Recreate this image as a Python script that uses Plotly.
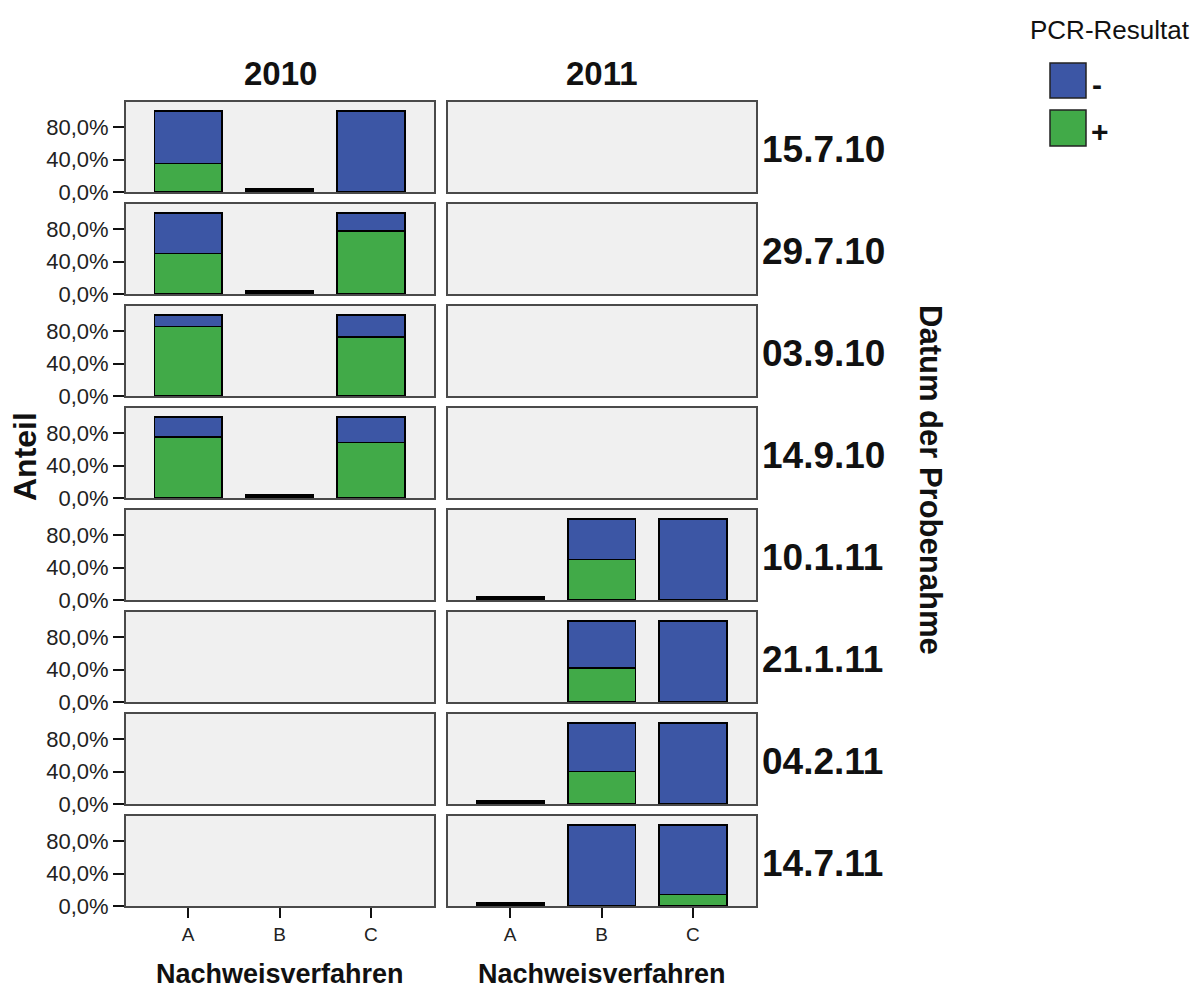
import plotly.graph_objects as go

# ---- data -------------------------------------------------------------
dates = ["15.7.10", "29.7.10", "03.9.10", "14.9.10",
         "10.1.11", "21.1.11", "04.2.11", "14.7.11"]
years = ["2010", "2011"]
date_year = ["2010", "2010", "2010", "2010", "2011", "2011", "2011", "2011"]
methods = ["A", "B", "C"]

# share of positive PCR results in % per sampling date and method (None = no bar)
pos_share = [
    [35.0, None, 0.0],
    [50.0, None, 77.8],
    [85.7, None, 72.7],
    [75.0, None, 68.4],
    [None, 50.0, 0.0],
    [None, 41.7, 0.0],
    [None, 40.0, 0.0],
    [None, 0.0, 14.3],
]
# methods listed for a date but without any sample (n = 0)
empty_groups = [
    [False, True, False],
    [False, True, False],
    [False, False, False],
    [False, True, False],
    [True, False, False],
    [False, False, False],
    [True, False, False],
    [True, False, False],
]

y_ticks = [0, 40, 80]
y_ticktext = ["0,0%", "40,0%", "80,0%"]

# ---- styling ----------------------------------------------------------
W, H = 1198, 990
H_PLOT = 977  # vertical pixel scale used to place panels and labels
BLUE = "#3c56a5"
GREEN = "#41aa48"
PANEL_BG = "#f0f0f0"
FONT = "Liberation Sans, Arial, sans-serif"
EMPTY_BAR = 3.6  # drawn height of an n = 0 group (flat black bar)

col_px = [(126, 434), (448, 756)]
row_top0, row_step, row_h = 101.7, 102.0, 90.3


def px_x(x):
    return x / W


def px_y(y):
    return 1 - y / H_PLOT


fig = go.Figure()
layout_axes = {}

for i, date in enumerate(dates):
    top = row_top0 + i * row_step
    bottom = top + row_h
    for j, year in enumerate(years):
        k = i * 2 + j + 1
        xa = "x" if k == 1 else f"x{k}"
        ya = "y" if k == 1 else f"y{k}"
        xkey = "xaxis" if k == 1 else f"xaxis{k}"
        ykey = "yaxis" if k == 1 else f"yaxis{k}"
        last_row = i == len(dates) - 1

        layout_axes[xkey] = dict(
            domain=[px_x(col_px[j][0]), px_x(col_px[j][1])],
            anchor=ya,
            type="category",
            categoryorder="array",
            categoryarray=methods,
            range=[-0.68, 2.69],
            showgrid=False, zeroline=False,
            showline=True, mirror=True, linecolor="#4a4a4a", linewidth=2,
            showticklabels=last_row,
            ticks="outside" if last_row else "",
            ticklen=10, tickwidth=1.5, tickcolor="#111",
            tickfont=dict(family=FONT, size=19, color="#222"),
            fixedrange=True,
        )
        layout_axes[ykey] = dict(
            domain=[px_y(bottom), px_y(top)],
            anchor=xa,
            range=[0, 111.5],
            tickvals=y_ticks,
            ticktext=y_ticktext,
            showticklabels=(j == 0),
            ticks="outside" if j == 0 else "",
            ticklen=11, tickwidth=1.5, tickcolor="#111",
            tickfont=dict(family=FONT, size=22, color="#222"),
            showgrid=False, zeroline=False,
            showline=True, mirror=True, linecolor="#4a4a4a", linewidth=2,
            fixedrange=True,
        )

        bar_common = dict(
            x=methods, xaxis=xa, yaxis=ya, width=0.74,
            marker_line=dict(color="#000", width=1.6),
            hoverinfo="skip", showlegend=False,
        )

        if date_year[i] != year:
            # empty panel: a trace without values keeps the frame drawn
            fig.add_trace(go.Bar(y=[None] * len(methods), **bar_common))
            continue

        pos = pos_share[i]
        neg = [None if p is None else 100 - p for p in pos]
        empty = [EMPTY_BAR if e else None for e in empty_groups[i]]

        fig.add_trace(go.Bar(y=pos, marker_color=GREEN, name="+", **bar_common))
        fig.add_trace(go.Bar(y=neg, marker_color=BLUE, name="-", **bar_common))
        fig.add_trace(go.Bar(y=empty, marker_color="#000", name="n = 0", **bar_common))

annotations = []
# column headers and x-axis titles
for j, year in enumerate(years):
    cx = (col_px[j][0] + col_px[j][1]) / 2
    annotations.append(dict(
        x=px_x(cx), y=px_y(74), xref="paper", yref="paper",
        text=f"<b>{year}</b>", showarrow=False,
        font=dict(family=FONT, size=33, color="#111"),
        xanchor="center", yanchor="middle"))
    annotations.append(dict(
        x=px_x(cx), y=px_y(974), xref="paper", yref="paper",
        text="<b>Nachweisverfahren</b>", showarrow=False,
        font=dict(family=FONT, size=27, color="#111"),
        xanchor="center", yanchor="middle"))

# row labels (sampling dates)
for i, date in enumerate(dates):
    cy = row_top0 + i * row_step + row_h / 2
    annotations.append(dict(
        x=px_x(760), y=px_y(cy + 3), xref="paper", yref="paper",
        text=f"<b>{date}</b>", showarrow=False,
        font=dict(family=FONT, size=37, color="#111"),
        xanchor="left", yanchor="middle"))

annotations += [
    dict(x=px_x(25), y=px_y(457), xref="paper", yref="paper",
         text="<b>Anteil</b>", showarrow=False, textangle=-90,
         font=dict(family=FONT, size=32, color="#111"),
         xanchor="center", yanchor="middle"),
    dict(x=px_x(931), y=px_y(480), xref="paper", yref="paper",
         text="<b>Datum der Probenahme</b>", showarrow=False, textangle=90,
         font=dict(family=FONT, size=31, color="#111"),
         xanchor="center", yanchor="middle"),
    # legend
    dict(x=px_x(1110), y=px_y(30), xref="paper", yref="paper",
         text="PCR-Resultat", showarrow=False,
         font=dict(family=FONT, size=26, color="#111"),
         xanchor="center", yanchor="middle"),
    dict(x=px_x(1090), y=px_y(84), xref="paper", yref="paper",
         text="<b>-</b>", showarrow=False,
         font=dict(family=FONT, size=30, color="#111"),
         xanchor="left", yanchor="middle"),
    dict(x=px_x(1089), y=px_y(131), xref="paper", yref="paper",
         text="<b>+</b>", showarrow=False,
         font=dict(family=FONT, size=30, color="#111"),
         xanchor="left", yanchor="middle"),
]

shapes = [
    dict(type="rect", xref="paper", yref="paper",
         x0=px_x(1050), x1=px_x(1086), y0=px_y(98), y1=px_y(63),
         fillcolor=BLUE, line=dict(color="#222", width=1.5)),
    dict(type="rect", xref="paper", yref="paper",
         x0=px_x(1050), x1=px_x(1086), y0=px_y(146), y1=px_y(110),
         fillcolor=GREEN, line=dict(color="#222", width=1.5)),
]

fig.update_layout(
    width=W, height=H,
    margin=dict(l=0, r=0, t=0, b=0),
    barmode="stack",
    paper_bgcolor="white",
    plot_bgcolor=PANEL_BG,
    showlegend=False,
    annotations=annotations,
    shapes=shapes,
    font=dict(family=FONT),
    **layout_axes,
)

fig.write_html("out.html")
